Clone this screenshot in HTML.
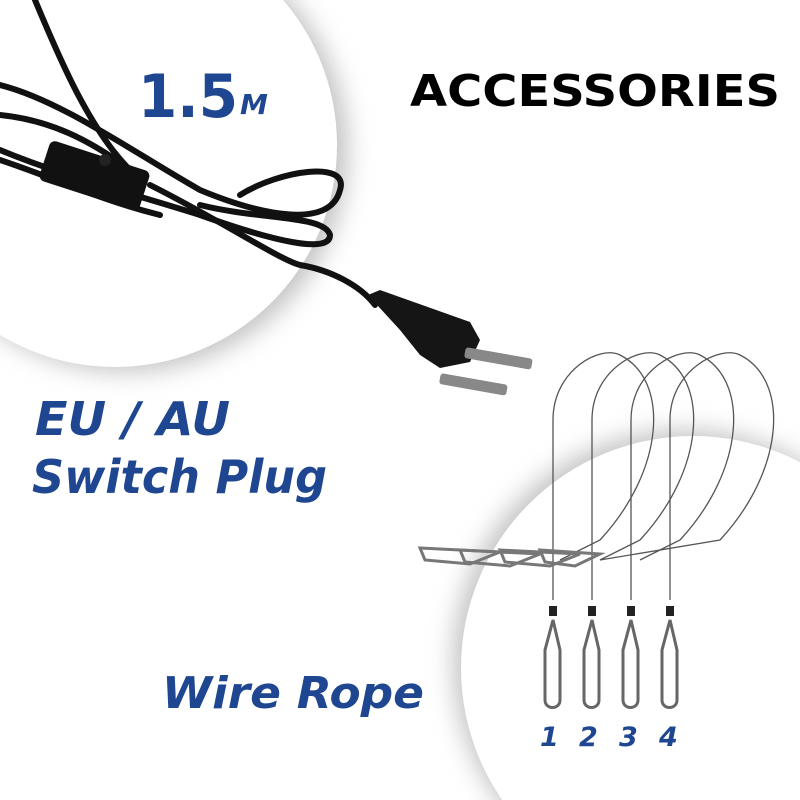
<!DOCTYPE html>
<html><head><style>
html,body{margin:0;padding:0;width:800px;height:800px;overflow:hidden;background:#fff}
svg{display:block}
</style></head><body>
<svg width="800" height="800" viewBox="0 0 800 800" xmlns="http://www.w3.org/2000/svg">
<defs>
<filter id="sh" x="-30%" y="-30%" width="160%" height="160%"><feGaussianBlur stdDeviation="12"/></filter>
</defs>
<rect width="800" height="800" fill="#fff"/>
<circle cx="126" cy="150" r="222" fill="#c4c4c4" filter="url(#sh)"/>
<circle cx="115" cy="145" r="222" fill="#fff"/>
<circle cx="685" cy="662" r="232" fill="#c4c4c4" filter="url(#sh)"/>
<circle cx="693" cy="668" r="232" fill="#fff"/>
<g fill="none" stroke="#111" stroke-width="6" stroke-linecap="round">
<path d="M35 0 C60 60 90 130 130 170"/>
<path d="M0 85 C60 100 130 150 200 190 C260 215 330 230 340 190 C350 160 280 170 240 195"/>
<path d="M0 115 C50 120 90 140 130 170"/>
<path d="M0 150 C60 175 120 190 200 215 C270 240 330 255 330 235 C325 215 260 220 200 205"/>
<path d="M150 185 C220 220 280 260 300 265 C330 270 360 285 375 305"/>
<path d="M0 160 C60 180 100 200 160 215"/>
</g>
<rect x="42" y="155" width="105" height="42" rx="6" fill="#111" transform="rotate(18 95 176)"/>
<circle cx="105" cy="160" r="6" fill="#222"/>
<path d="M368 295 L380 290 L470 322 L480 340 L470 362 L440 368 L420 355 L400 330 Z" fill="#151515"/>
<rect x="465" y="347" width="68" height="11" rx="3" fill="#888" transform="rotate(10 465 352)"/>
<rect x="440" y="373" width="68" height="11" rx="3" fill="#888" transform="rotate(10 440 378)"/>
<g fill="none" stroke="#555" stroke-width="1.3">
<path d="M553 600 L553 420 C553 370 600 345 620 355 C670 380 665 470 600 540 L560 560"/>
<path d="M592 600 L592 420 C592 370 640 345 660 355 C710 380 705 470 640 540 L600 560"/>
<path d="M631 600 L631 420 C631 370 680 345 700 355 C750 380 745 470 680 540 L640 560"/>
<path d="M670 600 L670 420 C670 370 720 345 740 355 C790 380 785 470 720 540 L600 560"/>
</g>
<g fill="none" stroke="#777" stroke-width="3">
<path d="M420 548 L500 552 L470 564 L425 560 Z"/>
<path d="M460 550 L540 554 L510 566 L465 562 Z"/>
<path d="M500 550 L580 554 L550 566 L505 562 Z"/>
<path d="M540 550 L600 554 L575 566 L545 562 Z"/>
</g>
<g fill="none" stroke="#666" stroke-width="3">
<path d="M553 620 L545 650 L545 700 C545 710 560 710 560 700 L560 650 Z"/>
<path d="M592 620 L584 650 L584 700 C584 710 599 710 599 700 L599 650 Z"/>
<path d="M631 620 L623 650 L623 700 C623 710 638 710 638 700 L638 650 Z"/>
<path d="M670 620 L662 650 L662 700 C662 710 677 710 677 700 L677 650 Z"/>
</g>
<g fill="#222"><rect x="549" y="606" width="8" height="10"/><rect x="588" y="606" width="8" height="10"/><rect x="627" y="606" width="8" height="10"/><rect x="666" y="606" width="8" height="10"/></g>
<g font-family="DejaVu Sans, sans-serif" font-weight="bold" fill="#1f4690">
<text x="138" y="117" font-size="60" textLength="100" lengthAdjust="spacingAndGlyphs">1.5</text>
<text x="240" y="114" font-size="28" font-style="italic">M</text>
<text x="35" y="435" font-size="46" font-style="italic" textLength="195" lengthAdjust="spacingAndGlyphs">EU / AU</text>
<text x="32" y="493" font-size="46" font-style="italic" textLength="295" lengthAdjust="spacingAndGlyphs">Switch Plug</text>
<text x="162" y="708" font-size="44" font-style="italic" textLength="262" lengthAdjust="spacingAndGlyphs">Wire Rope</text>
<text x="540" y="746" font-size="27" font-style="italic">1</text>
<text x="579" y="746" font-size="27" font-style="italic">2</text>
<text x="619" y="746" font-size="27" font-style="italic">3</text>
<text x="659" y="746" font-size="27" font-style="italic">4</text>
</g>
<text x="410" y="106" font-family="DejaVu Sans, sans-serif" font-weight="bold" font-size="44" fill="#000" textLength="370" lengthAdjust="spacingAndGlyphs">ACCESSORIES</text>
</svg>
</body></html>
